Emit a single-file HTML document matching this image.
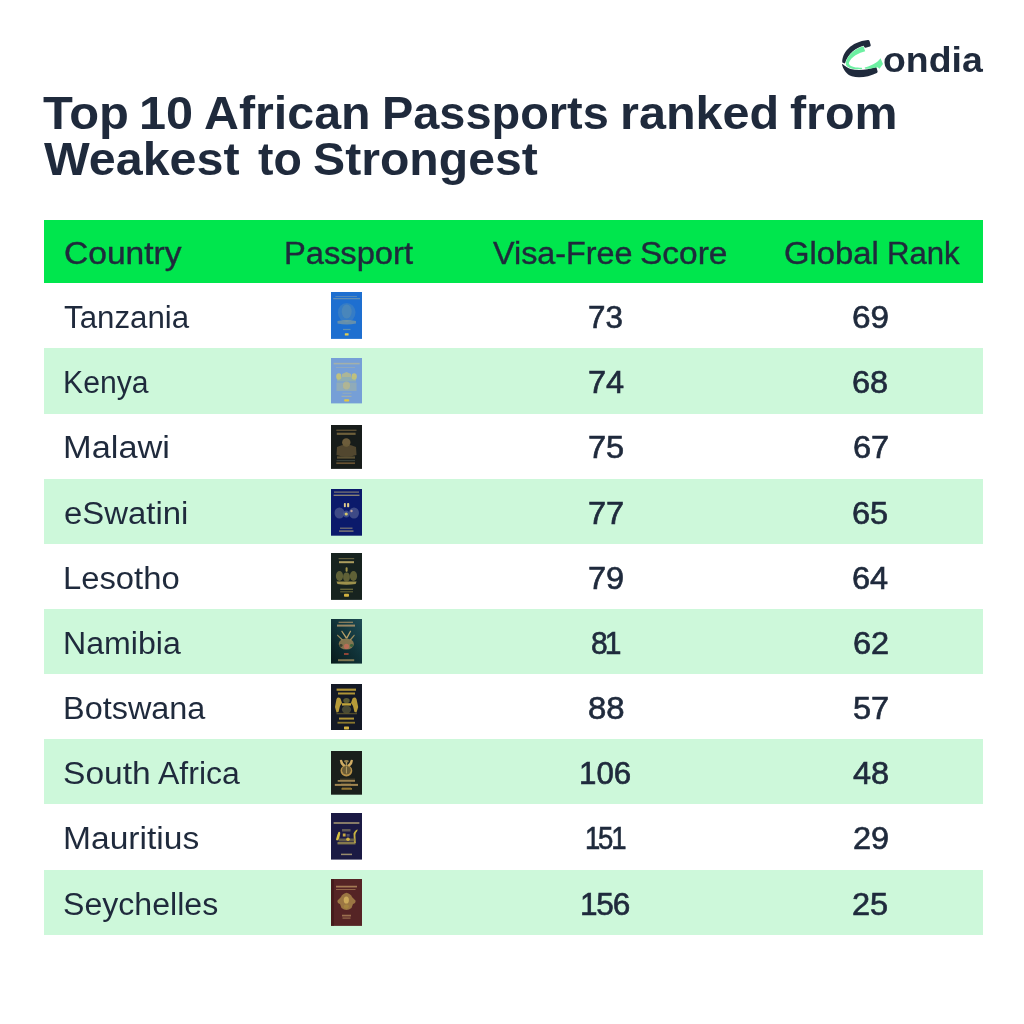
<!DOCTYPE html>
<html><head><meta charset="utf-8">
<style>
html,body{margin:0;padding:0;background:#fff;}
body{width:1024px;height:1024px;position:relative;overflow:hidden;font-family:"Liberation Sans",sans-serif;color:#1f2a3c;}
.a{position:absolute;white-space:nowrap;transform-origin:0 0;}
.t{font-size:46px;line-height:46px;font-weight:bold;}
.h{font-size:31px;line-height:31px;-webkit-text-stroke:0.4px #1f2a3c;}
.c{font-size:31px;line-height:31px;}
.n{font-size:31px;line-height:31px;-webkit-text-stroke:0.65px #1f2a3c;}
.hdr{left:43.5px;top:219.8px;width:939.5px;height:63.5px;background:#00e64d;}
.row{left:43.5px;width:939.5px;background:#cdf8da;}
.pp{position:absolute;left:331px;width:31px;height:47px;}
</style></head><body>

<div class="a hdr"></div>
<div class="a row" style="top:348.4px;height:65.2px"></div>
<div class="a row" style="top:478.7px;height:65.2px"></div>
<div class="a row" style="top:609.0px;height:65.2px"></div>
<div class="a row" style="top:739.3px;height:65.2px"></div>
<div class="a row" style="top:869.6px;height:65.2px"></div>
<svg class="a" style="left:836px;top:34px" width="60" height="50" viewBox="0 0 1024 853">
<path d="M545 103 Q566 100 572 120 L592 188 Q596 206 578 212 L506 236 Q490 238 482 222 L474 200 C360 222 200 330 152 505 L108 488 C100 330 250 130 545 103 Z" fill="#1f2a3c"/>
<path d="M100 508 C140 530 160 560 250 598 C400 630 550 605 668 566 Q688 560 694 580 L710 640 Q712 656 696 664 C560 730 400 760 270 722 C180 690 120 610 100 508 Z" fill="#1f2a3c"/>
<path d="M468 208 L498 296 C400 320 250 390 218 500 C230 560 330 580 440 574 L446 598 C330 612 200 590 168 520 C160 400 300 250 468 208 Z" fill="#6df0a2"/>
<path d="M488 572 C580 545 700 500 760 412 L802 512 L742 594 L712 566 C650 580 560 598 500 592 Z" fill="#6df0a2"/>
</svg>
<div class="a" style="left:883.3px;top:42.25px;font-size:35px;line-height:35px;font-weight:bold;transform:scaleX(1.068)">ondia</div>

<svg width="0" height="0" style="position:absolute"><defs><filter id="bl" x="-10%" y="-10%" width="120%" height="120%"><feGaussianBlur stdDeviation="0.35"/></filter></defs></svg>
<svg class="a" style="left:331px;top:291.9px" width="31" height="46.9" viewBox="0 0 31 46.9"><rect width="31" height="46.9" fill="#1e6fd0"/><g filter="url(#bl)"><rect x="4.4" y="4.0" width="21.6" height="0.8" fill="#c9c08a" opacity="0.4"/><rect x="2.2" y="6.2" width="26.8" height="1.0" fill="#c9c08a" opacity="0.5"/><ellipse cx="15.7" cy="20.5" rx="8.8" ry="9.5" fill="#8fae9a" opacity="0.2"/><ellipse cx="15.7" cy="19.5" rx="5" ry="7" fill="#a8b88a" opacity="0.18"/><path d="M6.5 29 Q15.7 27 25 29 L25 31.5 Q15.7 33.5 6.5 31.5 Z" fill="#a9ad8a" opacity="0.5"/><rect x="12" y="36.9" width="7.5" height="1.2" fill="#a9b58a" opacity="0.45"/><rect x="13.8" y="41.3" width="3.8" height="2.1" fill="#ead24a" opacity="0.95" rx="0.5"/></g></svg>
<svg class="a" style="left:331px;top:358.3px" width="31" height="45.4" viewBox="0 0 31 45.4"><rect width="31" height="45.4" fill="#769fd7"/><g filter="url(#bl)"><rect x="2.6" y="4.8" width="26.1" height="1.6" fill="#c2bd8c" opacity="0.6"/><rect x="5" y="9.0" width="19" height="0.8" fill="#c2bd8c" opacity="0.4"/><ellipse cx="7.8" cy="18.5" rx="2.6" ry="3.2" fill="#e0cf5a" opacity="0.7"/><ellipse cx="23.2" cy="18.5" rx="2.6" ry="3.2" fill="#e0cf5a" opacity="0.7"/><path d="M11 16 L15.5 14 L20 16 L20 19 L11 19 Z" fill="#d8c860" opacity="0.55"/><rect x="6" y="19" width="19" height="4.5" fill="#b9c27a" opacity="0.4"/><rect x="5.5" y="24.5" width="20" height="8.5" fill="#c0bf80" opacity="0.35"/><ellipse cx="15.5" cy="27.5" rx="3.6" ry="4" fill="#d0c070" opacity="0.5"/><rect x="11.5" y="34.75" width="9.0" height="0.9" fill="#c2bd8c" opacity="0.45"/><rect x="10.5" y="37.75" width="10.0" height="1.3" fill="#c2bd8c" opacity="0.5"/><rect x="13.2" y="41.3" width="5" height="2.3" fill="#e8c93a" opacity="0.95" rx="0.8"/></g></svg>
<svg class="a" style="left:331px;top:424.8px" width="31" height="43.9" viewBox="0 0 31 43.9"><rect width="31" height="43.9" fill="#171c1a"/><g filter="url(#bl)"><rect x="5.3" y="4.65" width="20.2" height="1.3" fill="#6e5d3a" opacity="0.8"/><rect x="5.8" y="7.7" width="18.8" height="2.2" fill="#7c6a40" opacity="0.85"/><ellipse cx="15.3" cy="17.5" rx="4.2" ry="4.2" fill="#8a7445" opacity="0.75"/><path d="M6 22 Q15.3 17 25 22 L25.5 30 Q15.3 33 5.5 30 Z" fill="#6b5a38" opacity="0.7"/><rect x="6" y="31.4" width="18" height="2.2" fill="#7a6840" opacity="0.7"/><rect x="5.5" y="35.0" width="18.5" height="1.2" fill="#3d4a45" opacity="0.8"/><rect x="5.3" y="37.35" width="18.7" height="1.7" fill="#7a5f38" opacity="0.8"/></g></svg>
<svg class="a" style="left:331px;top:489.1px" width="31" height="46.7" viewBox="0 0 31 46.7"><rect width="31" height="46.7" fill="#0b1a6b"/><g filter="url(#bl)"><rect x="3" y="2.5" width="25" height="1.2" fill="#c9b77a" opacity="0.6"/><rect x="2.6" y="5.6" width="25.9" height="1.4" fill="#c9b77a" opacity="0.65"/><rect x="12.9" y="13.9" width="1.9" height="4.4" fill="#ecd68c" opacity="0.95" rx="0.8"/><rect x="16.1" y="13.9" width="2.1" height="4.4" fill="#ecd68c" opacity="0.95" rx="0.8"/><ellipse cx="8.5" cy="24" rx="5" ry="5.5" fill="#7d86a8" opacity="0.45"/><ellipse cx="23" cy="24" rx="5" ry="5.5" fill="#7d86a8" opacity="0.45"/><ellipse cx="15.3" cy="25" rx="3" ry="3.6" fill="#5a6aa0" opacity="0.6"/><ellipse cx="15.2" cy="25" rx="1.6" ry="1.6" fill="#e8d468" opacity="0.9"/><ellipse cx="20.5" cy="22" rx="1.2" ry="1.2" fill="#e0b8a0" opacity="0.8"/><rect x="9" y="38.6" width="12.5" height="1.2" fill="#b8a878" opacity="0.65"/><rect x="8" y="41.4" width="14.5" height="1.4" fill="#b8a878" opacity="0.7"/></g></svg>
<svg class="a" style="left:331px;top:552.7px" width="31" height="46.9" viewBox="0 0 31 46.9"><rect width="31" height="46.9" fill="#17231f"/><g filter="url(#bl)"><rect x="7.6" y="5.25" width="15.6" height="0.9" fill="#a8985a" opacity="0.7"/><rect x="8" y="8.2" width="15" height="2.0" fill="#c7b36a" opacity="0.85"/><rect x="14.6" y="14.3" width="2" height="4.5" fill="#b8a850" opacity="0.85" rx="0.8"/><ellipse cx="8.5" cy="23" rx="3.6" ry="5" fill="#8f8a45" opacity="0.6"/><ellipse cx="22.5" cy="23" rx="3.6" ry="5" fill="#8f8a45" opacity="0.6"/><ellipse cx="15.5" cy="24" rx="3.4" ry="4.6" fill="#7d7a40" opacity="0.7"/><path d="M5.5 28.6 L25.6 28.6 L24.6 31 Q15.5 32.6 6.5 31 Z" fill="#b5a554" opacity="0.85"/><rect x="9.2" y="35.65" width="12.8" height="1.3" fill="#8f8a45" opacity="0.7"/><rect x="9.2" y="38.25" width="12.8" height="1.1" fill="#8f8a45" opacity="0.6"/><rect x="13" y="40.8" width="5" height="3" fill="#dbb840" opacity="0.95" rx="0.8"/></g></svg>
<svg class="a" style="left:331px;top:619.1px" width="31" height="44.6" viewBox="0 0 31 44.6"><defs><linearGradient id="gn" x1="0" y1="1" x2="1" y2="0"><stop offset="0" stop-color="#081a1b"/><stop offset=".55" stop-color="#11343a"/><stop offset="1" stop-color="#1f4c55"/></linearGradient></defs><rect width="31" height="44.6" fill="url(#gn)"/><g filter="url(#bl)"><rect x="7.6" y="2.7" width="14.4" height="1.2" fill="#b89a6a" opacity="0.75"/><rect x="6" y="5.6" width="18" height="2.0" fill="#b89a6a" opacity="0.8"/><path d="M11 11.5 L15.6 18 L19.2 11.5 L20.2 12.2 L16.4 19.5 L14.8 19.5 L10.2 12.2 Z" fill="#d2b070" opacity="0.85"/><path d="M6.5 15.5 L12 20.5 L11 21.5 L6 16.5 Z M23.2 15.5 L18.8 20.5 L19.8 21.5 L23.8 16.5 Z" fill="#c8a868" opacity="0.75"/><ellipse cx="15.3" cy="25" rx="7.6" ry="5.6" fill="#c09a5c" opacity="0.65"/><ellipse cx="15.5" cy="27.4" rx="2.6" ry="2.6" fill="#cf6a5a" opacity="0.7"/><ellipse cx="10" cy="26.5" rx="1.6" ry="1.4" fill="#1c2a22" opacity="0.7"/><ellipse cx="20.6" cy="26.5" rx="1.6" ry="1.4" fill="#1c5a32" opacity="0.7"/><rect x="13" y="34.2" width="4.6" height="1.6" fill="#c8503a" opacity="0.85"/><rect x="7" y="40.2" width="16.2" height="2.0" fill="#9a8a5a" opacity="0.8"/></g></svg>
<svg class="a" style="left:331px;top:683.6px" width="31" height="46.9" viewBox="0 0 31 46.9"><rect width="31" height="46.9" fill="#141925"/><g filter="url(#bl)"><rect x="5.6" y="4.6" width="19.4" height="2.2" fill="#c9a83a" opacity="0.85"/><rect x="7" y="8.5" width="17" height="2.0" fill="#c9a83a" opacity="0.85"/><path d="M5.5 15 Q7 12.5 9.5 14.5 L11 19 L9 22 L7.5 28 L5.5 28.5 L4 23 Z" fill="#d4b13c" opacity="0.85"/><path d="M25.5 15 Q24 12.5 21.5 14.5 L20 19 L22 22 L23.5 28 L25.5 28.5 L27.2 23 Z" fill="#d4b13c" opacity="0.85"/><ellipse cx="15.5" cy="16.5" rx="3.2" ry="2.6" fill="#6b6a3a" opacity="0.8"/><rect x="11" y="19.2" width="9" height="2.4" fill="#d4b13c" opacity="0.9"/><ellipse cx="15.5" cy="25.5" rx="4.6" ry="4" fill="#5a5a3a" opacity="0.75"/><rect x="5.5" y="28.9" width="20.5" height="1.4" fill="#6b6030" opacity="0.7"/><rect x="8" y="33.6" width="15" height="2.0" fill="#c9a83a" opacity="0.85"/><rect x="6.5" y="37.8" width="17.5" height="1.8" fill="#a89030" opacity="0.8"/><rect x="13" y="42.5" width="5" height="2.9" fill="#dbb840" opacity="0.95" rx="0.6"/></g></svg>
<svg class="a" style="left:331px;top:751.1px" width="31" height="43.7" viewBox="0 0 31 43.7"><rect width="31" height="43.7" fill="#1a1f1b"/><g filter="url(#bl)"><path d="M8.8 9.5 Q9.5 8.3 11 9 Q12 13 14.5 14.2 L13.5 15.8 Q9.2 14.5 8.8 9.5 Z" fill="#e0b86a" opacity="0.92"/><path d="M22 9.5 Q21.3 8.3 19.8 9 Q18.8 13 16.3 14.2 L17.3 15.8 Q21.6 14.5 22 9.5 Z" fill="#e0b86a" opacity="0.92"/><ellipse cx="15.4" cy="10.2" rx="2.4" ry="1.3" fill="#c9a860" opacity="0.7"/><rect x="14.7" y="11" width="1.5" height="5" fill="#c9b070" opacity="0.8"/><ellipse cx="15.4" cy="19.8" rx="5.9" ry="5.6" fill="#c9a050" opacity="0.9"/><ellipse cx="15.4" cy="19.3" rx="4.4" ry="4.2" fill="#5a5030" opacity="0.85"/><rect x="14.9" y="15.5" width="1.1" height="7" fill="#c9b070" opacity="0.7"/><rect x="9" y="27.75" width="15" height="0.9" fill="#8a7040" opacity="0.6"/><rect x="6.7" y="29.05" width="17.3" height="1.7" fill="#b8985a" opacity="0.85"/><rect x="10" y="31.8" width="10" height="0.8" fill="#8a7040" opacity="0.6"/><rect x="3.8" y="32.9" width="23.2" height="2.0" fill="#b8985a" opacity="0.85"/><rect x="11" y="35.9" width="9" height="0.8" fill="#8a7040" opacity="0.6"/><rect x="10.5" y="37.1" width="10.5" height="1.6" fill="#b8903a" opacity="0.85"/></g></svg>
<svg class="a" style="left:331px;top:813.3px" width="31" height="46.6" viewBox="0 0 31 46.6"><rect width="31" height="46.6" fill="#1b1a44"/><g filter="url(#bl)"><rect x="2.6" y="9.15" width="25.8" height="1.7" fill="#b8a878" opacity="0.8"/><path d="M7.5 19 Q9.5 18 9.2 21 L8 26 Q6.2 28.5 5 26.5 Q6 22 7.5 19 Z" fill="#e0c840" opacity="0.95"/><path d="M22.5 20.5 Q24.5 16.5 26.8 16.5 L26 18.5 Q24 20 24.5 24 L24.8 30 L23 30 Z" fill="#d8c040" opacity="0.9"/><path d="M11 16 L19.5 16 L19.5 18.5 L11 18.5 Z" fill="#8a8460" opacity="0.6"/><rect x="11.8" y="20.5" width="2.8" height="3" fill="#d8b840" opacity="0.9"/><rect x="15.6" y="21" width="3" height="2.6" fill="#6a6a78" opacity="0.7"/><rect x="7.5" y="25.5" width="17" height="3" fill="#8a8050" opacity="0.65"/><ellipse cx="17" cy="26.2" rx="1.8" ry="1.8" fill="#e0c040" opacity="0.9"/><rect x="6.5" y="29.0" width="18.0" height="2.4" fill="#a89a50" opacity="0.75"/><rect x="10" y="40.65" width="11" height="1.5" fill="#b8a878" opacity="0.8"/></g></svg>
<svg class="a" style="left:331px;top:878.9px" width="31" height="46.9" viewBox="0 0 31 46.9"><rect width="31" height="46.9" fill="#552425"/><g filter="url(#bl)"><rect x="0" y="0" width="3" height="46.9" fill="#3a1517" opacity="0.55"/><rect x="5" y="6.75" width="21" height="1.7" fill="#b89060" opacity="0.8"/><rect x="5" y="10.0" width="19.5" height="1.0" fill="#b89060" opacity="0.6"/><path d="M15.5 13.8 Q20 15 21 18 L24.5 21.5 Q25 24 22 25 L20.5 29 Q15.5 33 10.5 29 L9 25 Q6 24 6.5 21.5 L10 18 Q11 15 15.5 13.8 Z" fill="#b89850" opacity="0.7"/><ellipse cx="15.3" cy="21" rx="2.6" ry="3.6" fill="#d8b860" opacity="0.8"/><ellipse cx="15.3" cy="27.6" rx="2.6" ry="2.2" fill="#a88840" opacity="0.8"/><rect x="11" y="35.75" width="9" height="1.7" fill="#b89060" opacity="0.7"/><rect x="11.5" y="38.45" width="8.0" height="1.3" fill="#b89060" opacity="0.6"/></g></svg>
<div class="a t" style="left:43.24px;top:90.06px;transform:scaleX(1.0628)">Top</div>
<div class="a t" style="left:138.63px;top:90.06px;transform:scaleX(1.0565)">10</div>
<div class="a t" style="left:203.55px;top:90.06px;transform:scaleX(1.0510)">African</div>
<div class="a t" style="left:381.64px;top:90.06px;transform:scaleX(1.0197)">Passports</div>
<div class="a t" style="left:620.03px;top:90.06px;transform:scaleX(1.0552)">ranked</div>
<div class="a t" style="left:790.25px;top:90.06px;transform:scaleX(1.0520)">from</div>
<div class="a t" style="left:44.30px;top:136.06px;transform:scaleX(1.0524)">Weakest</div>
<div class="a t" style="left:257.99px;top:136.06px;transform:scaleX(1.0098)">to</div>
<div class="a t" style="left:312.91px;top:136.06px;transform:scaleX(1.0472)">Strongest</div>
<div class="a h" style="left:64.42px;top:237.96px;transform:scaleX(1.0833)">Country</div>
<div class="a h" style="left:283.89px;top:237.96px;transform:scaleX(1.0542)">Passport</div>
<div class="a h" style="left:493.00px;top:237.96px;transform:scaleX(1.0432)">Visa-Free</div>
<div class="a h" style="left:639.84px;top:237.96px;transform:scaleX(1.0801)">Score</div>
<div class="a h" style="left:784.44px;top:237.96px;transform:scaleX(1.0575)">Global</div>
<div class="a h" style="left:887.24px;top:237.96px;transform:scaleX(1.0036)">Rank</div>
<div class="a c" style="left:64.29px;top:302.06px;transform:scaleX(1.0089)">Tanzania</div>
<div class="a n" style="left:588.29px;top:302.06px;transform:scaleX(1.0121)">73</div>
<div class="a n" style="left:852.32px;top:302.06px;transform:scaleX(1.0750)">69</div>
<div class="a c" style="left:62.98px;top:367.22px;transform:scaleX(0.9741)">Kenya</div>
<div class="a n" style="left:587.62px;top:367.22px;transform:scaleX(1.0500)">74</div>
<div class="a n" style="left:852.23px;top:367.22px;transform:scaleX(1.0500)">68</div>
<div class="a c" style="left:62.57px;top:432.38px;transform:scaleX(1.1088)">Malawi</div>
<div class="a n" style="left:587.62px;top:432.38px;transform:scaleX(1.0500)">75</div>
<div class="a n" style="left:852.75px;top:432.38px;transform:scaleX(1.0500)">67</div>
<div class="a c" style="left:64.24px;top:497.54px;transform:scaleX(1.0614)">eSwatini</div>
<div class="a n" style="left:588.15px;top:497.54px;transform:scaleX(1.0500)">77</div>
<div class="a n" style="left:852.23px;top:497.54px;transform:scaleX(1.0500)">65</div>
<div class="a c" style="left:62.73px;top:562.70px;transform:scaleX(1.0575)">Lesotho</div>
<div class="a n" style="left:588.15px;top:562.70px;transform:scaleX(1.0500)">79</div>
<div class="a n" style="left:852.23px;top:562.70px;transform:scaleX(1.0500)">64</div>
<div class="a c" style="left:62.79px;top:627.86px;transform:scaleX(1.0360)">Namibia</div>
<div class="a n" style="left:590.83px;top:627.86px;transform:scaleX(0.9690);letter-spacing:-3px">81</div>
<div class="a n" style="left:852.75px;top:627.86px;transform:scaleX(1.0500)">62</div>
<div class="a c" style="left:62.76px;top:693.02px;transform:scaleX(1.0459)">Botswana</div>
<div class="a n" style="left:587.64px;top:693.02px;transform:scaleX(1.0606)">88</div>
<div class="a n" style="left:852.75px;top:693.02px;transform:scaleX(1.0500)">57</div>
<div class="a c" style="left:63.13px;top:758.18px;transform:scaleX(1.0831)">South</div>
<div class="a c" style="left:158.20px;top:758.18px;transform:scaleX(1.0329)">Africa</div>
<div class="a n" style="left:579.28px;top:758.18px;transform:scaleX(1.0082)">106</div>
<div class="a n" style="left:852.75px;top:758.18px;transform:scaleX(1.0500)">48</div>
<div class="a c" style="left:62.65px;top:823.34px;transform:scaleX(1.0828)">Mauritius</div>
<div class="a n" style="left:585.23px;top:823.34px;transform:scaleX(0.8864);letter-spacing:-2.5px">151</div>
<div class="a n" style="left:852.75px;top:823.34px;transform:scaleX(1.0500)">29</div>
<div class="a c" style="left:63.23px;top:888.50px;transform:scaleX(1.0354)">Seychelles</div>
<div class="a n" style="left:580.27px;top:888.50px;transform:scaleX(1.0174);letter-spacing:-1.2px">156</div>
<div class="a n" style="left:852.23px;top:888.50px;transform:scaleX(1.0500)">25</div>
</body></html>
